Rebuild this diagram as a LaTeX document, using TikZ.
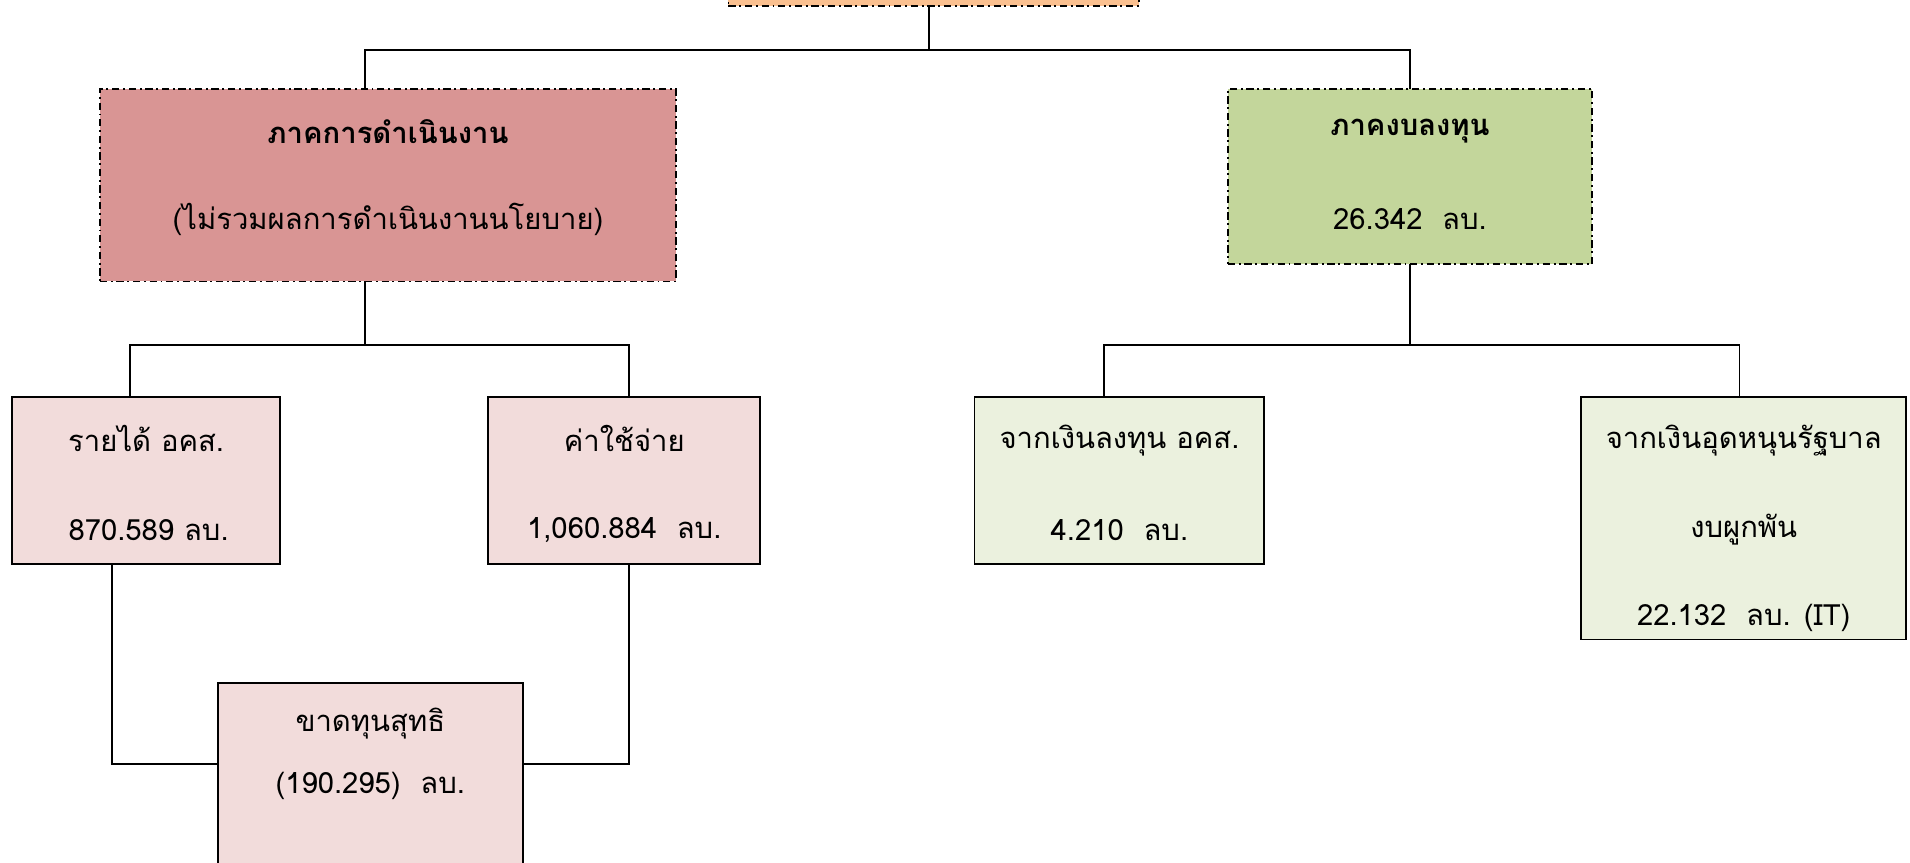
\documentclass[tikz,border=0pt]{standalone}
\usepackage{fontspec}
\newfontfamily\thai[Script=Thai]{Loma}
\definecolor{topor}{HTML}{FAC090}
\definecolor{opred}{HTML}{D99594}
\definecolor{invgr}{HTML}{C3D69B}
\definecolor{lightred}{HTML}{F2DCDB}
\definecolor{lightgr}{HTML}{EBF1DE}
\tikzset{
  dashdot/.style={draw=black, line width=0.7pt, dash pattern=on 3pt off 1.5pt on 0.8pt off 1.5pt},
  solidbox/.style={draw=black, line width=0.8pt},
  box/.style={rectangle, inner sep=0pt, outer sep=0pt},
  conn/.style={draw=black, line width=0.8pt},
  txt/.style={font=\thai\fontsize{12}{14}\selectfont, inner sep=0pt},
  txtb/.style={font=\thai\bfseries\fontsize{12}{14}\selectfont, inner sep=0pt}
}
\begin{document}
\begin{tikzpicture}[x=0.5pt, y=-0.5pt]
\useasboundingbox (0,0) rectangle (1568,708);
\clip (0,0) rectangle (1568,708);
% boxes
\node[box, dashdot, fill=topor, minimum width=168.5pt, minimum height=25pt] (T) at (766.5,-20) {};
\node[box, dashdot, fill=opred, minimum width=236.5pt, minimum height=79pt] (A) at (318.5,152) {};
\node[box, dashdot, fill=invgr, minimum width=149.5pt, minimum height=72pt] (B) at (1157.5,145) {};
\node[box, solidbox, fill=lightred, minimum width=110pt, minimum height=68.5pt] (C) at (120,394.5) {};
\node[box, solidbox, fill=lightred, minimum width=111.5pt, minimum height=68.5pt] (D) at (512.5,394.5) {};
\node[box, solidbox, fill=lightred, minimum width=125pt, minimum height=80pt] (E) at (304,641) {};
\node[box, solidbox, fill=lightgr, minimum width=119pt, minimum height=68.5pt] (F) at (919,394.5) {};
\node[box, solidbox, fill=lightgr, minimum width=133.5pt, minimum height=99.5pt] (G) at (1431.5,425.5) {};
% texts
\node[txtb] (A1) at (318.5,108) {ภาคการดำเนินงาน};
\node[txt] (A2) at (318.5,180) {(ไม่รวมผลการดำเนินงานนโยบาย)};
\node[txtb] (B1) at (1157.5,108) {ภาคงบลงทุน};
\node[txt] (B2) at (1157.5,180) {26.342~~ลบ.};
\node[txt] (C1) at (120,360) {รายได้ อคส.};
\node[txt] (C2) at (122,435) {870.589 ลบ.};
\node[txt] (D1) at (512.5,360) {ค่าใช้จ่าย};
\node[txt] (D2) at (512.5,435) {1,060.884~~ลบ.};
\node[txt] (E1) at (304,594) {ขาดทุนสุทธิ};
\node[txt] (E2) at (304,645) {(190.295)~~ลบ.};
\node[txt] (F1) at (919,362) {จากเงินลงทุน อคส.};
\node[txt] (F2) at (919,435) {4.210~~ลบ.};
\node[txt] (G1) at (1431.5,362) {จากเงินอุดหนุนรัฐบาล};
\node[txt] (G2) at (1431.5,435) {งบผูกพัน};
\node[txt] (G3) at (1431.5,507) {22.132~~ลบ. (IT)};
% connectors
\coordinate (j0) at (763,41);
\coordinate (j1) at (300,283);
\coordinate (j2) at (300,627);
\coordinate (j3) at (1156,283);
\draw[conn] (T.south -| j0) -- (j0);
\draw[conn] ([xshift=-9.25pt]A.north) |- (j0) -| (B.north);
\draw[conn] ([xshift=-9.25pt]A.south) -- (j1);
\draw[conn] ([xshift=-6.5pt]C.north) |- (j1) -| ([xshift=1.75pt]D.north);
\draw[conn] ([xshift=-14pt]C.south) |- (E.west |- j2);
\draw[conn] ([xshift=1.75pt]D.south) |- (E.east |- j2);
\draw[conn] (B.south) -- (B.south |- j3);
\draw[conn] ([xshift=-6.5pt]F.north) |- (j3) -| ([xshift=-1.75pt]G.north);
\end{tikzpicture}
\end{document}
